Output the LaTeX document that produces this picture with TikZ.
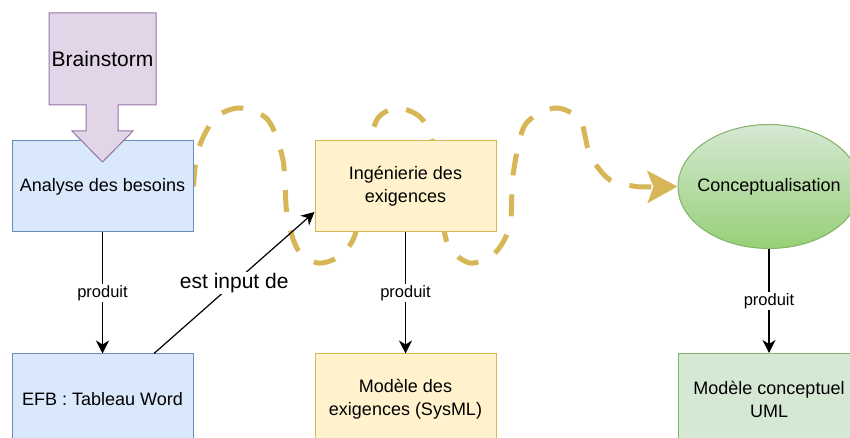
\documentclass[tikz,border=0pt]{standalone}
\usepackage{fontspec}
\setmainfont{Liberation Sans}
\usepackage{xcolor}
\usetikzlibrary{calc, positioning, shapes.geometric, arrows.meta, backgrounds}

\definecolor{bleufond}{HTML}{DAE8FC}
\definecolor{bleutrait}{HTML}{6C8EBF}
\definecolor{jaunefond}{HTML}{FFF2CC}
\definecolor{jaunetrait}{HTML}{D6B656}
\definecolor{vertfond}{HTML}{D5E8D4}
\definecolor{vertfonce}{HTML}{97D077}
\definecolor{verttrait}{HTML}{82B366}
\definecolor{violetfond}{HTML}{E1D5E7}
\definecolor{violettrait}{HTML}{9673A6}

\begin{document}
\begin{tikzpicture}[x = 1pt, y = 1pt,
  boite/.style = {draw, line width = 1pt, minimum width = 181pt, minimum height = 91pt,
    align = center, font = \fontsize{18}{23}\selectfont},
  besoin/.style = {boite, fill = bleufond, draw = bleutrait},
  exig/.style = {boite, fill = jaunefond, draw = jaunetrait},
  concep/.style = {boite, fill = vertfond, draw = verttrait},
  fleche/.style = {line width = 1.2pt, -{Stealth[length = 13pt, width = 13pt, inset = 4pt]}},
  etiq/.style = {fill = white, inner sep = 1pt, font = \fontsize{16.5}{18}\selectfont},
  spirale/.style = {draw = jaunetrait, line width = 5pt, dash pattern = on 22pt off 19pt,
    -{Stealth[length = 30pt, width = 32pt, inset = 6pt, fill = jaunetrait]}}]
\useasboundingbox (0,0) rectangle (850,438);
\node[besoin] (ana) at (102.5,251.5) {Analyse des besoins};
\node[besoin, below = 121pt of ana] (efb) {EFB : Tableau Word};
\node[exig, right = 121pt of ana] (inge) {Ingénierie des\\exigences};
\node[exig, below = 121pt of inge] (modele) {Modèle des\\exigences (SysML)};
\node[ellipse, draw = verttrait, line width = 1pt, top color = vertfond, bottom color = vertfonce,
  minimum width = 182pt, minimum height = 124pt, inner xsep = -30pt,
  font = \fontsize{18}{23}\selectfont, right = 181pt of inge] (concept) {Conceptualisation};
\node[concep, below = 104pt of concept] (uml) {Modèle conceptuel\\UML};
% fleche Brainstorm
\path[draw = violettrait, fill = violetfond, line width = 1pt] (49,425) -- (156,425) -- (156,333)
  -- (118,333) -- (118,307) -- (133,307) -- (102.5,276) -- (72,307) -- (86,307) -- (86,333)
  -- (49,333) -- cycle;
\node[font = \fontsize{21}{24}\selectfont] (brain) at (102.5,379) {Brainstorm};
\draw[fleche] (ana) -- node[etiq, midway] {produit} (efb);
\draw[fleche] (inge) -- node[etiq, midway] {produit} (modele);
\draw[fleche] (concept) -- node[etiq, midway] {produit} (uml);
\draw[fleche] ([xshift = 51.5pt]efb.north) -- node[etiq, midway, font = \fontsize{21}{24}\selectfont] {est input de} ([yshift = -25.5pt]inge.west);
\begin{scope}[on background layer]
\draw[spirale] plot[smooth] coordinates {(ana.east) (198,288) (215,320) (240,330) (268,318)
  (283,278) (287,223) (298,188) (318,175) (340,182) (355,203) (362,248) (368,288) (378,320)
  (398,330) (420,321) (432,298) (440,238) (448,193) (470,175) (495,185) (510,213) (513,263)
  (525,313) (555,330) (580,318) (590,283) (610,258) (640,251)} -- (concept.west);
\end{scope}
\end{tikzpicture}
\end{document}
